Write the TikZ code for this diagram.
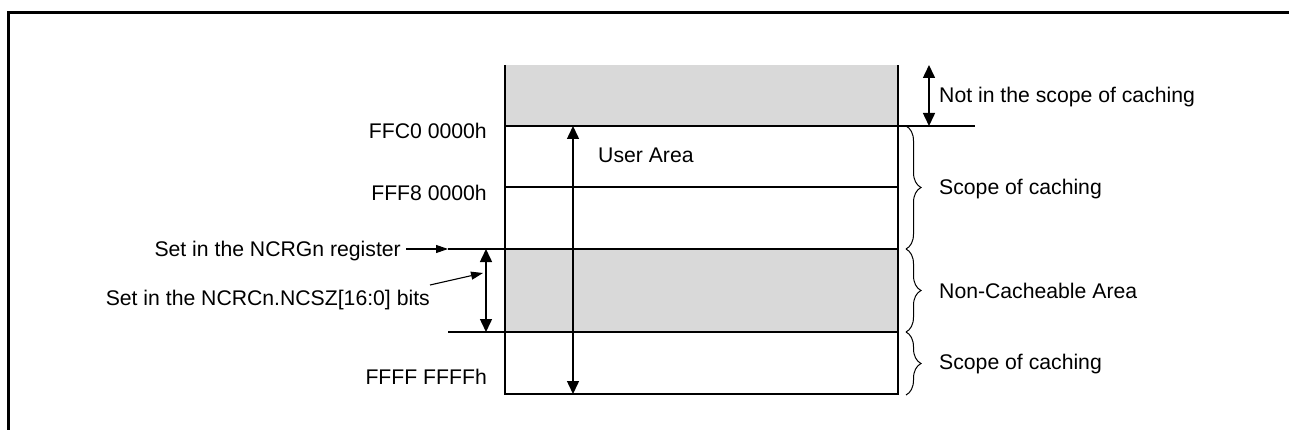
\documentclass[tikz,border=0pt]{standalone}
\usepackage{fontspec}
\setmainfont{Liberation Sans}
\usetikzlibrary{arrows.meta,decorations.pathreplacing}
\definecolor{areagray}{HTML}{D9D9D9}
\begin{document}
\begin{tikzpicture}[x=1pt,y=-1pt,
  lbl/.style={font=\fontsize{21.2}{25}\selectfont, inner sep=0pt},
  frameline/.style={line width=3pt},
  memline/.style={line width=1.6pt},
  divline/.style={line width=1.8pt},
  thinline/.style={line width=1.3pt},
  bigtip/.style={line width=1.5pt, {Triangle[length=13pt,width=12pt]}-{Triangle[length=13pt,width=12pt]}},
  smalltip/.style={line width=1.1pt, -{Triangle[length=12pt,width=8pt]}},
  bracestyle/.style={line width=1pt, decorate, decoration={brace, amplitude=15pt}}
]
\useasboundingbox (0,0) rectangle (1289,430);
% frame
\draw[frameline] (8,430) -- (8,13) -- (1289,13);
% areas
\fill[areagray] (505,65) rectangle (898,126);
\fill[areagray] (505,249) rectangle (898,332);
% coordinates
\coordinate (tl) at (505,65);
\coordinate (tr) at (898,65);
\coordinate (bl) at (505,394);
\coordinate (br) at (898,394);
\coordinate (a1) at (505,126); \coordinate (a1r) at (975,126);
\coordinate (a2) at (505,187); \coordinate (a2r) at (898,187);
\coordinate (a3) at (448,249); \coordinate (a3r) at (898,249);
\coordinate (a4) at (448,332); \coordinate (a4r) at (898,332);
\draw[memline] (tl) -- (bl) -- (br) -- (tr);
\draw[thinline] (a1) -- (a1r);
\draw[divline] (a2) -- (a2r);
\draw[divline] (a3) -- (a3r);
\draw[divline] (a4) -- (a4r);
% arrows
\coordinate (ua) at (573,126);
\coordinate (ub) at (573,394);
\draw[bigtip] (ua) -- (ub);
\coordinate (na) at (929,65);
\coordinate (nb) at (929,126);
\draw[bigtip] (na) -- (nb);
\coordinate (sa) at (486,249);
\coordinate (sb) at (486,332);
\draw[bigtip] (sa) -- (sb);
% labels
\node[lbl, anchor=mid east] (ffc0) at (487,136) {FFC0 0000h};
\node[lbl, anchor=mid east] (fff8) at (487,198) {FFF8 0000h};
\node[lbl, anchor=mid east] (ffff) at (487,382) {FFFF FFFFh};
\node[lbl, anchor=mid west] (user) at (598,160) {User Area};
\node[lbl, anchor=mid east] (reg) at (401,254) {Set in the NCRGn register};
\node[lbl, anchor=mid east] (bits) at (430,302.5) {Set in the NCRCn.NCSZ[16:0] bits};
\node[lbl, anchor=mid west] (notin) at (939,99.5) {Not in the scope of caching};
\node[lbl, anchor=mid west] (scope1) at (939,191.5) {Scope of caching};
\node[lbl, anchor=mid west] (noncache) at (939,295.5) {Non-Cacheable Area};
\node[lbl, anchor=mid west] (scope2) at (939,366.5) {Scope of caching};
% pointers
\coordinate (regfrom) at (406,249);
\coordinate (regtip) at (448,249);
\draw[smalltip] (regfrom) -- (regtip);
\coordinate (bitsfrom) at (430,285);
\coordinate (bitstip) at (483,273);
\draw[smalltip] (bitsfrom) -- (bitstip);
% braces
\draw[bracestyle] (906,126) -- (906,249);
\draw[bracestyle] (906,249) -- (906,332);
\draw[bracestyle] (906,332) -- (906,395);
\end{tikzpicture}
\end{document}
